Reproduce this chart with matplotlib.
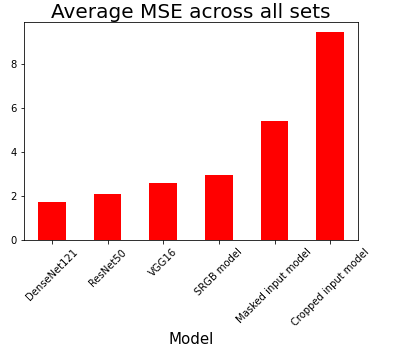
import matplotlib
matplotlib.use("Agg")
import matplotlib.pyplot as plt

models = ["DenseNet121", "ResNet50", "VGG16", "SRGB model", "Masked input model", "Cropped input model"]
mse = [1.73, 2.1, 2.6, 2.95, 5.41, 9.42]

fig = plt.figure(figsize=(399/72, 353/72), dpi=72)
ax = fig.add_axes([24/399, 1-240/353, 334/399, 218/353])
x = range(len(models))
ax.bar(x, mse, width=0.5, color="red")
ax.set_xlim(-0.5, len(models)-0.5)
ax.set_ylim(0, max(mse)*1.05)
ax.set_yticks([0, 2, 4, 6, 8])
ax.set_xticks(list(x))
ax.set_xticklabels(models, rotation=45, ha="center", fontsize=10)
ax.tick_params(axis="y", labelsize=10)
ax.set_title("Average MSE across all sets", fontsize=20, pad=4)
ax.set_xlabel("Model", fontsize=15)
fig.savefig("out.png", dpi=72)
